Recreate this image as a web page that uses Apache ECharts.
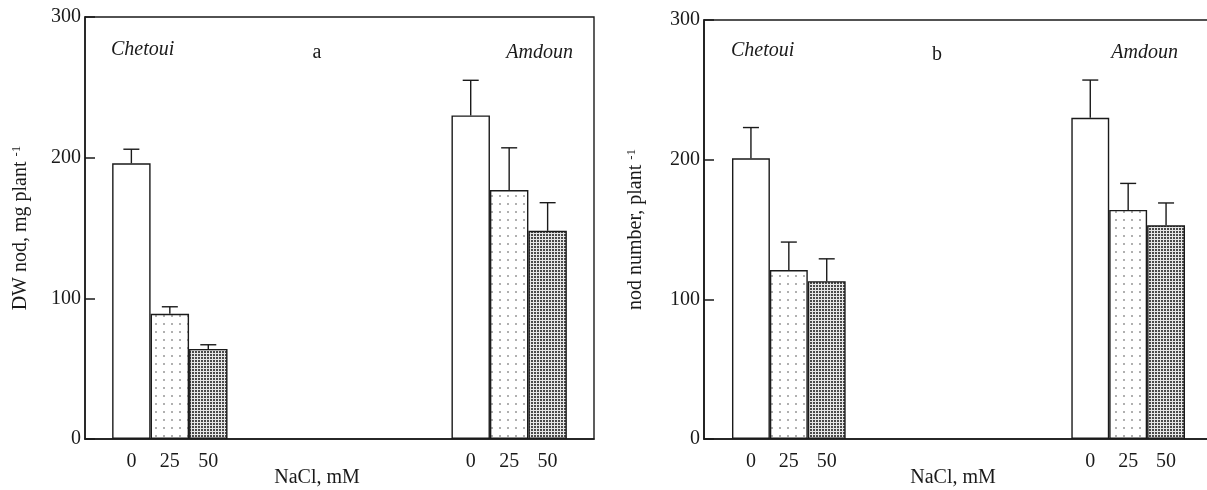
<!DOCTYPE html>
<html>
<head>
<meta charset="utf-8">
<script src="https://cdn.jsdelivr.net/npm/echarts@6/dist/echarts.min.js"></script>
<style>
  html, body { margin: 0; padding: 0; background: #fff; overflow: hidden; }
  #chart { width: 1207px; height: 490px; }
</style>
</head>
<body>
<div id="chart"></div>
<script>
// ---------- data ----------
const cultivars = ['Chetoui', 'Amdoun'];
const naclLevels = ['0', '25', '50'];
const yTicks = [0, 100, 200, 300];

// panel a: DW nod, mg plant-1
const dwChetoui = [196, 89, 64];
const dwChetouiErr = [10, 5, 3];
const dwAmdoun = [230, 177, 148];
const dwAmdounErr = [25, 30, 20];

// panel b: nod number, plant-1
const nodChetoui = [201, 121, 113];
const nodChetouiErr = [22, 20, 16];
const nodAmdoun = [230, 164, 153];
const nodAmdounErr = [27, 19, 16];

// ---------- styles ----------
const FONT = "'Liberation Serif', 'DejaVu Serif', serif";
const INK = '#1a1a1a';

function makePattern(size, bg, dot, positions, dotSize) {
  const c = document.createElement('canvas');
  c.width = size; c.height = size;
  const ctx = c.getContext('2d');
  ctx.fillStyle = bg; ctx.fillRect(0, 0, size, size);
  ctx.fillStyle = dot;
  positions.forEach(p => ctx.fillRect(p[0], p[1], dotSize, dotSize));
  return { image: c, repeat: 'repeat' };
}
const fills = [
  '#ffffff',
  makePattern(8, '#ffffff', '#b0b0b0', [[3, 3]], 2),
  makePattern(3, '#e6e6e6', '#4a4a4a', [[0, 0]], 2)
];

const xSlots = [cultivars[0], '', cultivars[1]];
const gaps = ['32%', '33%'];

function barSeries(gi, chet, amd) {
  return naclLevels.map((lvl, s) => ({
    type: 'bar',
    name: lvl,
    xAxisIndex: gi, yAxisIndex: gi,
    barGap: '0%',
    barCategoryGap: gaps[gi],
    data: [chet[s], null, amd[s]],
    itemStyle: { color: fills[s], borderColor: INK, borderWidth: 1.4 },
    label: {
      show: true, position: 'bottom', distance: 13,
      formatter: lvl, fontFamily: FONT, fontSize: 20, color: INK
    },
    emphasis: { disabled: true },
    silent: true
  }));
}

function errSeries(gi, chet, amd, chetErr, amdErr) {
  const data = [];
  naclLevels.forEach((lvl, s) => {
    data.push([0, chet[s], chetErr[s], s]);
    data.push([2, amd[s], amdErr[s], s]);
  });
  const gapFrac = parseFloat(gaps[gi]) / 100;
  return {
    type: 'custom',
    xAxisIndex: gi, yAxisIndex: gi,
    silent: true,
    z: 5,
    data: data,
    renderItem: function (params, api) {
      const cat = api.value(0), v = api.value(1), e = api.value(2), s = api.value(3);
      const base = api.coord([cat, v]);
      const top = api.coord([cat, v + e]);
      const band = api.size([1, 0])[0];
      const bw = band * (1 - gapFrac) / 3;
      const x = base[0] + (s - 1) * bw;
      const st = { stroke: INK, lineWidth: 1.4 };
      return {
        type: 'group',
        children: [
          { type: 'line', shape: { x1: x, y1: base[1], x2: x, y2: top[1] }, style: st },
          { type: 'line', shape: { x1: x - 8, y1: top[1], x2: x + 8, y2: top[1] }, style: st }
        ]
      };
    }
  };
}

function yAxis(gi, name, gap) {
  return {
    type: 'value', gridIndex: gi,
    min: yTicks[0], max: yTicks[yTicks.length - 1], interval: 100,
    name: name, nameLocation: 'middle', nameGap: gap, nameRotate: 90,
    nameTextStyle: {
      fontFamily: FONT, fontSize: 20, color: INK,
      rich: { sup: { fontFamily: FONT, fontSize: 13, color: INK, verticalAlign: 'top', padding: [0, 0, 8, 0] } }
    },
    axisLine: { show: true, lineStyle: { color: INK, width: 1.5 } },
    axisTick: { show: true, inside: true, length: 10, lineStyle: { color: INK, width: 1.5 } },
    axisLabel: { fontFamily: FONT, fontSize: 20, color: INK, margin: 4 },
    splitLine: { show: false }
  };
}
function xAxis(gi) {
  return {
    type: 'category', gridIndex: gi, data: xSlots,
    axisLine: { show: true, lineStyle: { color: INK, width: 1.5 } },
    axisTick: { show: false },
    axisLabel: { show: false },
    splitLine: { show: false }
  };
}

function txt(x, y, text, opts) {
  return {
    type: 'text', x: x, y: y, silent: true,
    style: Object.assign({
      text: text, fontFamily: FONT, fontSize: 20, fill: INK,
      textAlign: 'center', textVerticalAlign: 'middle'
    }, opts || {})
  };
}

const chart = echarts.init(document.getElementById('chart'), null, { renderer: 'canvas' });
chart.setOption({
  backgroundColor: '#ffffff',
  animation: false,
  grid: [
    { left: 85, top: 17, width: 509, height: 422, outerBoundsMode: 'none', containLabel: false,
      show: true, borderColor: INK, borderWidth: 1.4, backgroundColor: 'transparent' },
    { left: 704, top: 20, width: 509, height: 419, outerBoundsMode: 'none', containLabel: false,
      show: true, borderColor: INK, borderWidth: 1.6, backgroundColor: 'transparent' }
  ],
  xAxis: [xAxis(0), xAxis(1)],
  yAxis: [
    yAxis(0, 'DW nod, mg plant {sup|-1}', 54),
    yAxis(1, 'nod number, plant {sup|-1}', 58)
  ],
  series: [].concat(
    barSeries(0, dwChetoui, dwAmdoun),
    barSeries(1, nodChetoui, nodAmdoun),
    [errSeries(0, dwChetoui, dwAmdoun, dwChetouiErr, dwAmdounErr),
     errSeries(1, nodChetoui, nodAmdoun, nodChetouiErr, nodAmdounErr)]
  ),
  graphic: [
    txt(111, 50, cultivars[0], { textAlign: 'left', fontStyle: 'italic' }),
    txt(573, 53, cultivars[1], { textAlign: 'right', fontStyle: 'italic' }),
    txt(317, 53, 'a'),
    txt(317, 478, 'NaCl, mM'),
    txt(731, 51, cultivars[0], { textAlign: 'left', fontStyle: 'italic' }),
    txt(1178, 53, cultivars[1], { textAlign: 'right', fontStyle: 'italic' }),
    txt(937, 55, 'b'),
    txt(953, 478, 'NaCl, mM')
  ]
});
</script>
</body>
</html>
